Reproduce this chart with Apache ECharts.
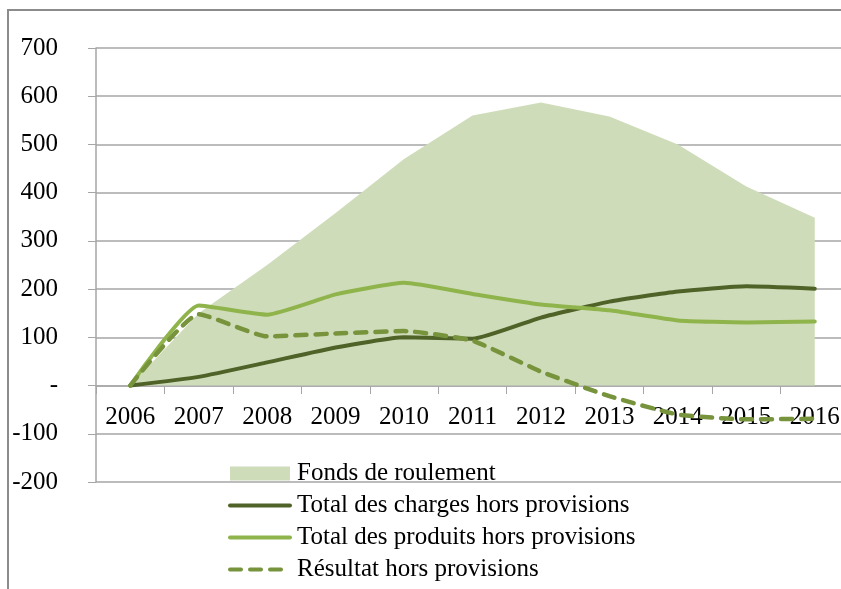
<!DOCTYPE html>
<html>
<head>
<meta charset="utf-8">
<script src="https://cdn.jsdelivr.net/npm/echarts@6/dist/echarts.min.js"></script>
<style>
  html, body { margin: 0; padding: 0; background: #fff; overflow: hidden; }
  #chart { width: 841px; height: 589px; }
</style>
</head>
<body>
<div id="chart"></div>
<script>
// données
const years = ["2006", "2007", "2008", "2009", "2010", "2011", "2012", "2013", "2014", "2015", "2016"];
const fondsRoulement = [0, 150, 250, 358, 470, 560, 587, 558, 500, 413, 348];
const totalCharges = [0, 18, 48, 79, 100, 97, 141, 174, 195, 206, 201];
const totalProduits = [0, 166, 147, 189, 213, 190, 168, 156, 135, 131, 133];
const resultat = [0, 148, 102, 108, 113, 93, 29, -22, -60, -70, -69];

const font = "Liberation Serif";
const cFonds = "#cfdcb9";
const cCharges = "#4f6228";
const cProduits = "#8fb44c";
const cResultat = "#77933c";
const dash = [11, 9];

const chart = echarts.init(document.getElementById("chart"));

chart.setOption({
  animation: false,
  textStyle: { fontFamily: font },
  graphic: [
    {
      type: "rect",
      shape: { x: 8, y: 10, width: 900, height: 700 },
      style: { fill: "none", stroke: "#8c8c8c", lineWidth: 2 },
      silent: true
    }
  ],
  grid: {
    left: 96,
    top: 48,
    width: 753,
    height: 434,
    outerBoundsMode: "none"
  },
  legend: {
    orient: "vertical",
    left: 223,
    top: 456,
    itemWidth: 60,
    itemHeight: 14,
    itemGap: 7,
    textStyle: { fontFamily: font, fontSize: 25, color: "#000", padding: [0, 0, 0, 2] },
    data: [
      { name: "Fonds de roulement", icon: "rect", itemStyle: { color: cFonds } },
      {
        name: "Total des charges hors provisions",
        itemStyle: { opacity: 0 },
        lineStyle: { width: 4, color: cCharges, cap: "round" }
      },
      {
        name: "Total des produits hors provisions",
        itemStyle: { opacity: 0 },
        lineStyle: { width: 4, color: cProduits, cap: "round" }
      },
      {
        name: "Résultat hors provisions",
        itemStyle: { opacity: 0 },
        lineStyle: { width: 4, color: cResultat, type: dash, cap: "round" }
      }
    ]
  },
  xAxis: {
    type: "category",
    data: years,
    boundaryGap: true,
    offset: -96,
    axisLine: { onZero: false, lineStyle: { color: "#a6a6a6", width: 1.5 } },
    axisTick: { show: true, length: 8, lineStyle: { color: "#a6a6a6" } },
    axisLabel: { fontFamily: font, fontSize: 25, color: "#000", margin: 19 },
    splitLine: { show: false }
  },
  yAxis: {
    type: "value",
    min: -200,
    max: 700,
    interval: 100,
    axisLine: { show: true, lineStyle: { color: "#a6a6a6", width: 1.5 } },
    axisTick: { show: true, length: 8, lineStyle: { color: "#a6a6a6" } },
    axisLabel: {
      fontFamily: font,
      fontSize: 25,
      color: "#000",
      margin: 38,
      formatter: function (v) { return v === 0 ? "-" : String(v); }
    },
    splitLine: { show: true, lineStyle: { color: "#a6a6a6", width: 1.5 } }
  },
  series: [
    {
      name: "Fonds de roulement",
      type: "line",
      data: fondsRoulement,
      showSymbol: false,
      symbol: "none",
      color: cFonds,
      lineStyle: { width: 0, color: cFonds },
      areaStyle: { color: cFonds, opacity: 1 },
      z: 1
    },
    {
      name: "Total des charges hors provisions",
      type: "line",
      data: totalCharges,
      symbol: "none",
      smooth: 0.15,
      color: cCharges,
      lineStyle: { width: 4, color: cCharges, cap: "round" },
      z: 3
    },
    {
      name: "Total des produits hors provisions",
      type: "line",
      data: totalProduits,
      symbol: "none",
      smooth: 0.15,
      color: cProduits,
      lineStyle: { width: 4, color: cProduits, cap: "round" },
      z: 3
    },
    {
      name: "Résultat hors provisions",
      type: "line",
      data: resultat,
      symbol: "none",
      smooth: 0.15,
      color: cResultat,
      lineStyle: { width: 4.5, color: cResultat, type: dash, cap: "round" },
      z: 4
    }
  ]
});
</script>
</body>
</html>
